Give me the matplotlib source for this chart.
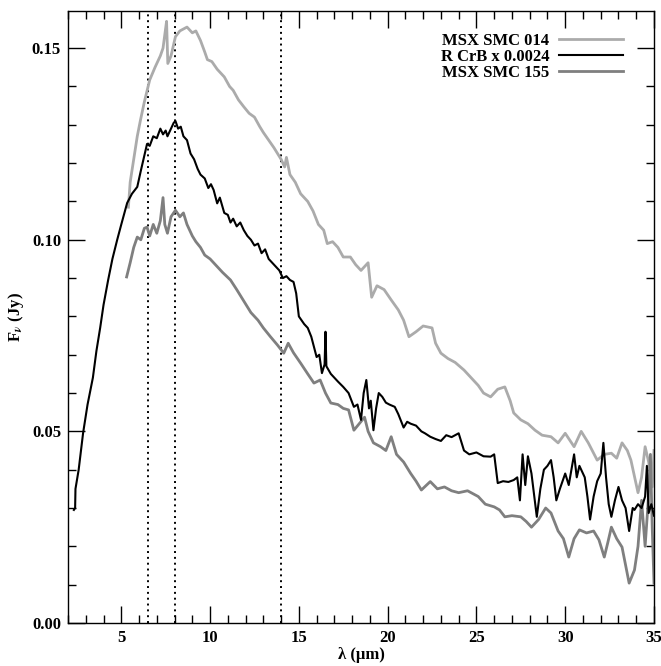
import matplotlib
matplotlib.use("Agg")
import matplotlib.pyplot as plt
from matplotlib.ticker import MultipleLocator

plt.rcParams["font.family"] = ["Liberation Serif", "DejaVu Serif"]
plt.rcParams["font.weight"] = "bold"
plt.rcParams["mathtext.fontset"] = "stix"

# Wavelength (micron) and flux density (Jy) for each spectrum
rcrb_wave = [2.33, 2.40, 2.42, 2.6, 2.85, 3.1, 3.4, 3.6, 3.81, 4.0, 4.26, 4.5, 4.77, 5.0, 5.33, 5.6,
             5.9, 6.1, 6.3, 6.45, 6.6, 6.8, 7.0, 7.2, 7.35, 7.5, 7.6, 7.8, 7.95, 8.05, 8.2, 8.35,
             8.5, 8.7, 8.9, 9.1, 9.3, 9.46, 9.7, 9.9, 10.05, 10.2, 10.4, 10.55, 10.8, 11.0, 11.15,
             11.3, 11.5, 11.7, 11.9, 12.1, 12.3, 12.5, 12.7, 12.9, 13.1, 13.3, 13.5, 13.7, 13.9,
             14.1, 14.3, 14.5, 14.7, 14.85, 15.0, 15.3, 15.5, 15.7, 16.0, 16.15, 16.3, 16.45, 16.5,
             16.55, 16.8, 17.0, 17.2, 17.5, 17.8, 18.1, 18.3, 18.5, 18.65, 18.8, 18.95, 19.05, 19.2,
             19.35, 19.5, 19.7, 19.9, 20.1, 20.4, 20.6, 20.9, 21.1, 21.3, 21.6, 21.9, 22.1, 22.4,
             22.7, 23.0, 23.3, 23.6, 24.0, 24.3, 24.6, 25.0, 25.4, 25.8, 26.0, 26.2, 26.5, 26.8,
             27.1, 27.3, 27.45, 27.6, 27.75, 27.9, 28.1, 28.4, 28.6, 28.8, 29.0, 29.2, 29.35, 29.5,
             29.7, 30.0, 30.2, 30.5, 30.65, 30.8, 31.1, 31.25, 31.4, 31.6, 31.8, 32.0, 32.15, 32.3,
             32.45, 32.6, 32.8, 33.0, 33.2, 33.4, 33.6, 33.8, 33.9, 34.1, 34.3, 34.5, 34.6, 34.7,
             34.85, 35.0]
rcrb_flux = [0.0295, 0.0300, 0.0350, 0.0400, 0.0496, 0.0570, 0.0640, 0.0710, 0.0770, 0.0830, 0.0895,
             0.0950, 0.1000, 0.1040, 0.1096, 0.1120, 0.1138, 0.1180, 0.1220, 0.1250, 0.1245, 0.1270,
             0.1265, 0.1290, 0.1275, 0.1285, 0.1270, 0.1290, 0.1305, 0.1310, 0.1290, 0.1295, 0.1270,
             0.1260, 0.1225, 0.1210, 0.1185, 0.1170, 0.1160, 0.1135, 0.1145, 0.1130, 0.1095, 0.1110,
             0.1070, 0.1065, 0.1045, 0.1055, 0.1035, 0.1045, 0.1025, 0.1010, 0.1000, 0.0985, 0.0990,
             0.0965, 0.0975, 0.0950, 0.0940, 0.0930, 0.0920, 0.0900, 0.0905, 0.0895, 0.0890, 0.0860,
             0.0800, 0.0780, 0.0770, 0.0747, 0.0694, 0.0700, 0.0652, 0.0675, 0.0760, 0.0670, 0.0650,
             0.0640, 0.0630, 0.0616, 0.0600, 0.0564, 0.0570, 0.0530, 0.0600, 0.0634, 0.0560, 0.0580,
             0.0503, 0.0560, 0.0600, 0.0590, 0.0575, 0.0570, 0.0564, 0.0545, 0.0510, 0.0525, 0.0520,
             0.0515, 0.0500, 0.0495, 0.0486, 0.0480, 0.0475, 0.0490, 0.0485, 0.0495, 0.0450, 0.0440,
             0.0445, 0.0435, 0.0434, 0.0440, 0.0365, 0.0370, 0.0368, 0.0373, 0.0380, 0.0320, 0.0440,
             0.0360, 0.0435, 0.0390, 0.0277, 0.0350, 0.0400, 0.0410, 0.0425, 0.0380, 0.0320, 0.0350,
             0.0390, 0.0360, 0.0440, 0.0380, 0.0410, 0.0380, 0.0330, 0.0270, 0.0330, 0.0370, 0.0390,
             0.0470, 0.0380, 0.0310, 0.0277, 0.0320, 0.0355, 0.0320, 0.0300, 0.0240, 0.0300, 0.0295,
             0.0310, 0.0300, 0.0330, 0.0410, 0.0287, 0.0310, 0.0280]

smc014_wave = [5.4, 5.5, 5.7, 5.9, 6.07, 6.3, 6.6, 6.9, 7.2, 7.35, 7.45, 7.55, 7.62, 7.8, 8.05, 8.3,
               8.7, 9.0, 9.2, 9.46, 9.7, 9.85, 10.1, 10.4, 10.8, 11.1, 11.3, 11.6, 11.9, 12.2, 12.5,
               12.8, 13.0, 13.3, 13.6, 14.0, 14.2, 14.3, 14.5, 14.8, 15.1, 15.5, 15.8, 16.1, 16.4,
               16.6, 16.9, 17.2, 17.5, 17.9, 18.2, 18.5, 18.9, 19.1, 19.4, 19.8, 20.2, 20.6, 20.9,
               21.2, 21.6, 22.0, 22.5, 22.7, 23.0, 23.4, 23.8, 24.3, 24.7, 25.1, 25.4, 25.8, 26.2,
               26.6, 26.9, 27.1, 27.5, 27.9, 28.3, 28.7, 29.2, 29.6, 30.0, 30.5, 30.9, 31.3, 31.8,
               32.2, 32.6, 32.9, 33.2, 33.5, 33.7, 34.1, 34.3, 34.5, 34.7, 34.9, 35.0]
smc014_flux = [0.1085, 0.1150, 0.1210, 0.1270, 0.1310, 0.1360, 0.1417, 0.1450, 0.1480, 0.1500, 0.1535,
               0.1570, 0.1460, 0.1480, 0.1530, 0.1545, 0.1555, 0.1540, 0.1545, 0.1520, 0.1490, 0.1470,
               0.1465, 0.1445, 0.1425, 0.1400, 0.1390, 0.1365, 0.1347, 0.1330, 0.1320, 0.1295, 0.1280,
               0.1260, 0.1240, 0.1210, 0.1190, 0.1215, 0.1170, 0.1150, 0.1120, 0.1100, 0.1075, 0.1040,
               0.1025, 0.0990, 0.0995, 0.0980, 0.0955, 0.0955, 0.0935, 0.0920, 0.0940, 0.0850, 0.0880,
               0.0870, 0.0843, 0.0817, 0.0790, 0.0747, 0.0760, 0.0775, 0.0770, 0.0730, 0.0704, 0.0690,
               0.0680, 0.0660, 0.0640, 0.0620, 0.0600, 0.0590, 0.0610, 0.0616, 0.0580, 0.0548, 0.0530,
               0.0520, 0.0503, 0.0490, 0.0486, 0.0470, 0.0495, 0.0460, 0.0500, 0.0470, 0.0425, 0.0440,
               0.0443, 0.0430, 0.0470, 0.0450, 0.0425, 0.0340, 0.0380, 0.0460, 0.0420, 0.0355, 0.0450]

smc155_wave = [5.3, 5.5, 5.7, 5.9, 6.1, 6.3, 6.45, 6.6, 6.8, 7.0, 7.2, 7.35, 7.45, 7.6, 7.8, 8.05,
               8.3, 8.5, 8.7, 9.0, 9.2, 9.46, 9.7, 10.0, 10.4, 10.7, 11.15, 11.5, 11.9, 12.3, 12.7,
               13.0, 13.4, 13.8, 14.15, 14.4, 14.7, 15.1, 15.5, 15.85, 16.2, 16.5, 16.8, 17.2, 17.5,
               17.8, 18.1, 18.4, 18.7, 18.9, 19.2, 19.6, 19.9, 20.2, 20.5, 20.9, 21.3, 21.6, 21.9,
               22.4, 22.8, 23.2, 23.6, 24.0, 24.5, 25.1, 25.5, 26.0, 26.3, 26.6, 27.0, 27.5, 27.8,
               28.1, 28.5, 28.9, 29.2, 29.6, 29.9, 30.2, 30.5, 30.8, 31.2, 31.6, 31.9, 32.2, 32.4,
               32.6, 32.9, 33.2, 33.6, 33.9, 34.1, 34.3, 34.5, 34.65, 34.8, 34.9, 35.0]
smc155_flux = [0.0903, 0.0940, 0.0980, 0.1007, 0.1000, 0.1030, 0.1033, 0.1010, 0.1040, 0.1017, 0.1050,
               0.1110, 0.1040, 0.1017, 0.1060, 0.1077, 0.1060, 0.1070, 0.1040, 0.1010, 0.0995, 0.0980,
               0.0960, 0.0950, 0.0930, 0.0915, 0.0895, 0.0870, 0.0840, 0.0810, 0.0790, 0.0770, 0.0747,
               0.0725, 0.0704, 0.0730, 0.0705, 0.0678, 0.0650, 0.0626, 0.0634, 0.0600, 0.0574, 0.0570,
               0.0560, 0.0556, 0.0503, 0.0520, 0.0537, 0.0500, 0.0470, 0.0460, 0.0450, 0.0486, 0.0440,
               0.0420, 0.0390, 0.0370, 0.0347, 0.0369, 0.0350, 0.0355, 0.0345, 0.0340, 0.0345, 0.0330,
               0.0310, 0.0303, 0.0295, 0.0277, 0.0280, 0.0277, 0.0265, 0.0250, 0.0270, 0.0300, 0.0287,
               0.0240, 0.0220, 0.0172, 0.0220, 0.0243, 0.0235, 0.0240, 0.0217, 0.0172, 0.0210, 0.0250,
               0.0220, 0.0198, 0.0104, 0.0138, 0.0200, 0.0320, 0.0200, 0.0300, 0.0440, 0.0250, 0.0104]

feature_waves = [6.5, 8.0, 14.0]

series_labels = ["MSX SMC 014", "R CrB x 0.0024", "MSX SMC 155"]
series_colors = ["#ababab", "#000000", "#7f7f7f"]

fig = plt.figure(figsize=(6.61, 6.66), dpi=100)
ax = fig.add_axes([0.1029, 0.0646, 0.8865, 0.9189])

for xv in feature_waves:
    ax.axvline(xv, color="black", linestyle=(0, (1, 2)), linewidth=1.4, zorder=1)

ax.plot(smc014_wave, smc014_flux, color=series_colors[0], lw=2.0, label=series_labels[0], zorder=2)
ax.plot(rcrb_wave, rcrb_flux, color=series_colors[1], lw=1.5, label=series_labels[1], zorder=3)
ax.plot(smc155_wave, smc155_flux, color=series_colors[2], lw=2.0, label=series_labels[2], zorder=2)

ax.set_xlim(2, 35)
ax.set_ylim(0, 0.1597)
ax.xaxis.set_major_locator(MultipleLocator(5))
ax.xaxis.set_minor_locator(MultipleLocator(1))
ax.yaxis.set_major_locator(MultipleLocator(0.05))
ax.yaxis.set_minor_locator(MultipleLocator(0.01))
ax.yaxis.set_major_formatter(matplotlib.ticker.FormatStrFormatter("%.2f"))

ax.tick_params(which="both", direction="in", top=True, right=True, width=1.0,
               labelsize=12, pad=5)
ax.tick_params(which="major", length=12)
ax.tick_params(which="minor", length=6)
for s in ax.spines.values():
    s.set_linewidth(1.0)
for lab in ax.get_xticklabels() + ax.get_yticklabels():
    lab.set_fontweight("bold")

ax.set_xlabel("λ (μm)", fontsize=12, fontweight="bold", labelpad=1)
ax.set_ylabel(r"F$_{\nu}$ (Jy)", fontsize=12, fontweight="bold", labelpad=4)

leg = ax.legend(loc="upper right", frameon=False, markerfirst=False, fontsize=12,
                handlelength=3.8, handletextpad=0.6, labelspacing=0.0,
                bbox_to_anchor=(0.958, 0.975), borderaxespad=0.0)
for t in leg.get_texts():
    t.set_fontweight("bold")

fig.savefig("out.png", dpi=100)
